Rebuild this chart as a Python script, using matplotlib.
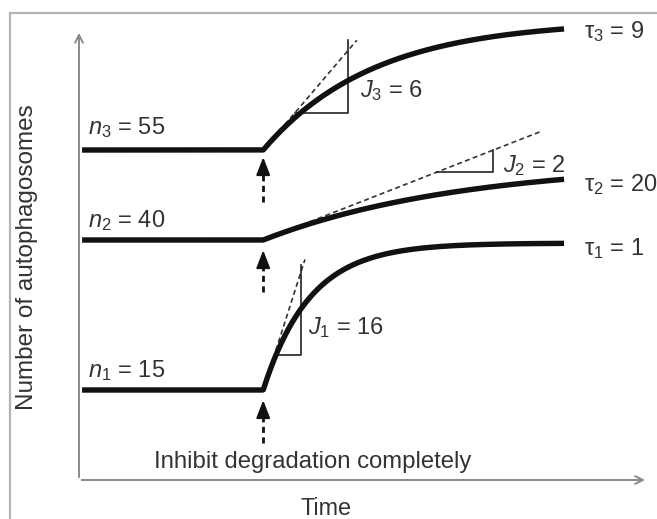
import matplotlib
matplotlib.use("Agg")
import matplotlib.pyplot as plt
import numpy as np
from matplotlib.patches import Rectangle

plt.rcParams['font.family'] = ['Liberation Sans', 'DejaVu Sans']
plt.rcParams['mathtext.fontset'] = 'custom'
plt.rcParams['mathtext.rm'] = 'Liberation Sans'
plt.rcParams['mathtext.it'] = 'Liberation Sans:italic'

# ---- data (schematic) ----
n_base = [15, 40, 55]          # basal autophagosome number
J_rate = [16, 2, 6]            # synthesis flux
tau_lbl = [1, 20, 9]           # transition time labels
tau_draw = [1.53, 6.5, 3.6]    # time constants used for the drawn curves
t_inhibit = 6.0
t_start, t_end = 0.1, 15.8

tangent_end = [7.36, 15.0, 9.05]
tri_left = [6.48, 11.66, 7.04]
tri_right = [7.23, 13.49, 8.76]
tri_base = [20.8, 51.3, 61.2]
tri_top = [35.8, 55.0, 73.3]

arrow_tip = [13.3, 38.3, 53.8]
arrow_tail = [6.2, 31.3, 46.3]

TXT = '#333333'
LINE = '#111111'

fig = plt.figure(figsize=(6.57, 5.19), dpi=100)
ax = fig.add_axes([0, 0, 1, 1])
ax.set_xlim(-79 / 30.7, (657 - 79) / 30.7)
ax.set_ylim(-6.5, 80)
ax.axis('off')

# grey frame round the picture
fig.patches.append(Rectangle((10 / 657, -0.1), 1.2, 1.1 - 13 / 519, transform=fig.transFigure,
                             fill=False, edgecolor='#b4b4b4', lw=1.6))

# axes with open arrow heads
ax.annotate('', xy=(0, 75), xytext=(0, 0),
            arrowprops=dict(arrowstyle='->', color='#8a8a8a', lw=1.4, mutation_scale=14))
ax.annotate('', xy=(18.53, 0), xytext=(0, 0),
            arrowprops=dict(arrowstyle='->', color='#8a8a8a', lw=1.4, mutation_scale=14))

for i in range(3):
    n0, J, td = n_base[i], J_rate[i], tau_draw[i]
    t = np.linspace(t_start, t_end, 400)
    y = np.where(t < t_inhibit, n0, n0 + J * td * (1 - np.exp(-(t - t_inhibit) / td)))
    ax.plot(t, y, color=LINE, lw=3.9, solid_capstyle='butt', solid_joinstyle='round', zorder=3)

    # initial-slope tangent
    tt = np.array([t_inhibit, tangent_end[i]])
    ax.plot(tt, n0 + J * (tt - t_inhibit), color='#333333', lw=1.2, ls=(0, (3, 2)), zorder=2)

    # slope triangle
    ax.plot([tri_left[i], tri_right[i], tri_right[i]], [tri_base[i], tri_base[i], tri_top[i]],
            color='#222222', lw=1.2, zorder=2)

    # dashed up-arrow marking the inhibition
    ax.plot([t_inhibit, t_inhibit], [arrow_tail[i], arrow_tip[i] - 2.0], color=LINE, lw=2.0,
            ls=(0, (2.2, 1.6)), dash_capstyle='butt')
    ax.annotate('', xy=(t_inhibit, arrow_tip[i]), xytext=(t_inhibit, arrow_tip[i] - 2.6),
                arrowprops=dict(arrowstyle='-|>,head_length=0.9,head_width=0.35', color=LINE,
                                lw=1.5, mutation_scale=12, shrinkA=0, shrinkB=0))

# labels
fs = 17
for i, yy in enumerate([18.2, 43.3, 58.7]):
    ax.text(0.28, yy, r'$n_%d$ = %d' % (i + 1, n_base[i]), fontsize=fs, color=TXT, va='center')

for i, yy in enumerate([38.6, 49.3, 74.8]):
    ax.text(16.45, yy, r'$\mathrm{\tau}_%d$ = %d' % (i + 1, tau_lbl[i]), fontsize=fs,
            color=TXT, va='center')

for i, (tx, yy) in enumerate([(7.45, 25.4), (13.8, 52.4), (9.15, 64.9)]):
    ax.text(tx, yy, r'$J_%d$ = %d' % (i + 1, J_rate[i]), fontsize=fs, color=TXT, va='center')

ax.text(7.62, 3.0, 'Inhibit degradation completely', fontsize=17.2, color=TXT,
        ha='center', va='center')
ax.text(8.05, -4.8, 'Time', fontsize=16.8, color=TXT, ha='center', va='center')
ax.text(-1.71, 37.2, 'Number of autophagosomes', fontsize=17.5, color=TXT,
        ha='center', va='center', rotation=90)

fig.savefig('out.png', dpi=100)
